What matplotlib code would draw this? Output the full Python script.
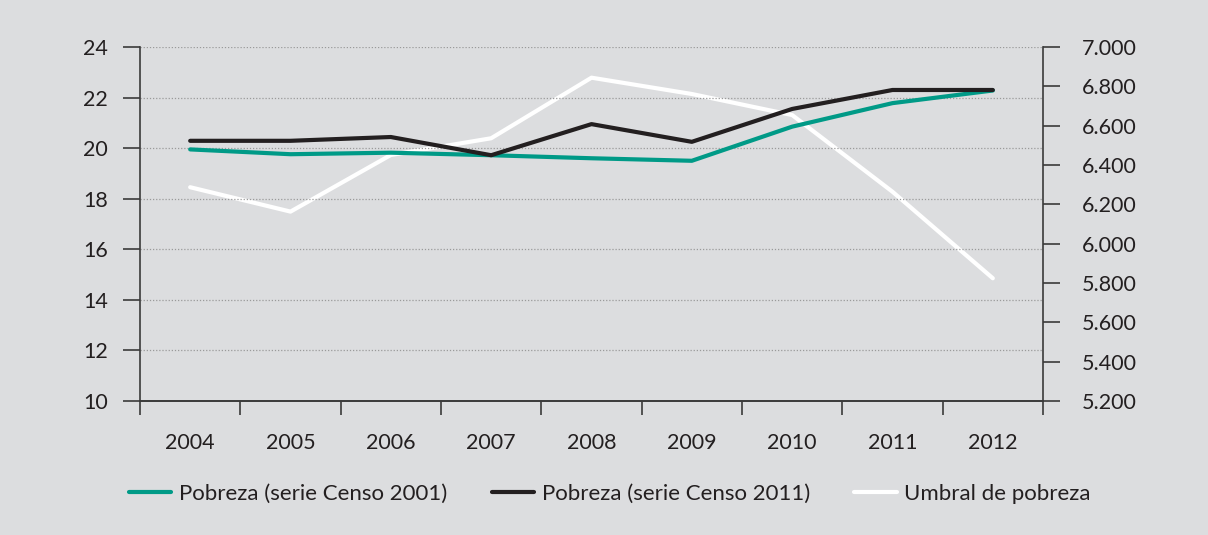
import numpy as np
import matplotlib
matplotlib.use("Agg")
import matplotlib.pyplot as plt
from matplotlib.ticker import FixedLocator, FuncFormatter

years = ["2004", "2005", "2006", "2007", "2008", "2009", "2010", "2011", "2012"]
pobreza_2001 = [19.95, 19.76, 19.82, 19.72, 19.60, 19.50, 20.85, 21.78, 22.28]
pobreza_2011 = [20.29, 20.29, 20.44, 19.72, 20.95, 20.25, 21.55, 22.30, 22.30]
umbral = [6.287, 6.163, 6.451, 6.536, 6.844, 6.761, 6.654, 6.264, 5.824]

BG = "#dcdddf"
TEAL = "#009a87"
DARK = "#231f20"
SPINE = "#3a3a3a"

plt.rcParams["font.family"] = ["Lato", "DejaVu Sans"]

fig = plt.figure(figsize=(12.08, 5.35), dpi=100, facecolor=BG)
ax = fig.add_axes([140/1208, 1 - 401/535, (1043-140)/1208, (401-47)/535])
ax.set_facecolor(BG)
ax2 = ax.twinx()

x = np.arange(len(years))
l1, = ax.plot(x, pobreza_2001, color=TEAL, lw=3, solid_capstyle="round", zorder=3)
l2, = ax.plot(x, pobreza_2011, color=DARK, lw=3, solid_capstyle="round", zorder=4)
l3, = ax2.plot(x, umbral, color="white", lw=3, solid_capstyle="round", zorder=2)
ax.set_zorder(ax2.get_zorder() + 1)
ax.patch.set_visible(False)
ax2.patch.set_visible(True)
ax2.patch.set_facecolor(BG)

ax.set_xlim(-0.5, len(years) - 0.5)
ax.set_ylim(10, 24)
ax.set_yticks(np.arange(10, 25, 2))
ax2.set_ylim(5.2, 7.0)
ax2.set_yticks(np.arange(5.2, 7.01, 0.2))
ax2.yaxis.set_major_formatter(FuncFormatter(lambda v, p: f"{v:.3f}"))

# gridlines from left axis
for yv in np.arange(12, 25, 2):
    ax.axhline(yv, color="#9a9a9a", lw=0.9, ls=(0, (1, 1.5)), zorder=1)

# category ticks between years, labels at centers
ax.xaxis.set_major_locator(FixedLocator(np.arange(-0.5, len(years), 1.0)))
ax.xaxis.set_minor_locator(FixedLocator(x))
ax.set_xticklabels([])
ax.set_xticklabels(years, minor=True)
ax.tick_params(axis="x", which="major", length=10, width=1.2, color=SPINE, direction="out")
ax.tick_params(axis="x", which="minor", length=0, pad=23, labelsize=15.5, labelcolor=DARK)
ax.tick_params(axis="y", length=12, width=1.2, color=SPINE, pad=11, labelsize=15.5, labelcolor=DARK)
ax2.tick_params(axis="y", length=12, width=1.2, color=SPINE, pad=16, labelsize=15.5, labelcolor=DARK)

for a in (ax, ax2):
    a.spines["top"].set_visible(False)
    for s in ("left", "right", "bottom"):
        a.spines[s].set_color(SPINE)
        a.spines[s].set_linewidth(1.2)
ax.spines["right"].set_visible(False)
ax2.spines["left"].set_visible(False)

leg = fig.legend([l1, l2, l3],
                 ["Pobreza (serie Censo 2001)", "Pobreza (serie Censo 2011)", "Umbral de pobreza"],
                 loc="center", bbox_to_anchor=(0.505, 1 - 494/535), ncol=3, frameon=False,
                 handlelength=1.9, handletextpad=0.35, columnspacing=2.0,
                 prop={"size": 16})
for t in leg.get_texts():
    t.set_color(DARK)

fig.savefig("out.png", dpi=100, facecolor=BG)
